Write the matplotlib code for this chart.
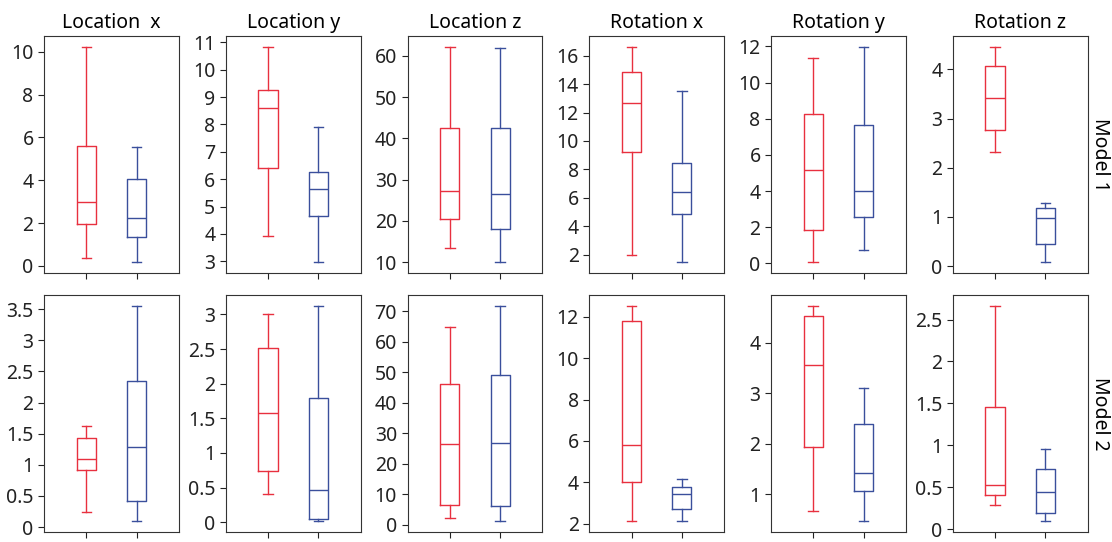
# box plots of location / rotation errors for two models

import numpy as np
import matplotlib
matplotlib.use('Agg')
import matplotlib.pyplot as plt
from matplotlib.ticker import FormatStrFormatter

plt.rcParams['font.family'] = ['Noto Sans', 'DejaVu Sans']

titles = ['Location  x', 'Location y', 'Location z', 'Rotation x', 'Rotation y', 'Rotation z']
rows = ['Model 1', 'Model 2']

# box stats per panel: (whislo, q1, med, q3, whishi), first red then blue
m1_red = [(0.38, 1.97, 2.97, 5.62, 10.23),
          (3.94, 6.40, 8.62, 9.27, 10.84),
          (13.3, 20.5, 27.2, 42.6, 62.2),
          (1.98, 9.21, 12.67, 14.84, 16.63),
          (0.07, 1.83, 5.15, 8.24, 11.36),
          (2.31, 2.77, 3.41, 4.07, 4.46)]
m1_blue = [(0.18, 1.34, 2.25, 4.06, 5.57),
           (2.97, 4.64, 5.64, 6.26, 7.90),
           (10.0, 18.0, 26.6, 42.6, 61.9),
           (1.47, 4.88, 6.44, 8.44, 13.51),
           (0.73, 2.56, 4.02, 7.67, 11.98),
           (0.08, 0.44, 0.97, 1.18, 1.28)]
m2_red = [(0.24, 0.91, 1.10, 1.43, 1.62),
          (0.41, 0.74, 1.58, 2.51, 3.00),
          (2.1, 6.5, 26.3, 46.1, 64.7),
          (2.13, 4.02, 5.80, 11.79, 12.51),
          (0.67, 1.93, 3.56, 4.53, 4.72),
          (0.29, 0.41, 0.52, 1.46, 2.66)]
m2_blue = [(0.09, 0.42, 1.29, 2.34, 3.55),
           (0.01, 0.04, 0.47, 1.79, 3.12),
           (1.0, 6.1, 26.7, 49.1, 71.7),
           (2.11, 2.70, 3.43, 3.78, 4.17),
           (0.46, 1.07, 1.42, 2.38, 3.11),
           (0.09, 0.19, 0.44, 0.72, 0.96)]

# y tick labels as shown: (start, stop, step)
m1_ticks = [(0, 10, 2), (3, 11, 1), (10, 60, 10), (2, 16, 2), (0, 12, 2), (0, 4, 1)]
m2_ticks = [(0, 3.5, 0.5), (0, 3, 0.5), (0, 70, 10), (2, 12, 2), (1, 4, 1), (0, 2.5, 0.5)]

red = '#e8303f'
blue = '#3a4f9c'


def stats(v):
    lo, q1, med, q3, hi = v
    return dict(whislo=lo, q1=q1, med=med, q3=q3, whishi=hi, fliers=[])


fig, axes = plt.subplots(2, 6, figsize=(11.12, 5.42), dpi=100)
fig.subplots_adjust(left=0.0396, right=0.978, top=0.9336, bottom=0.018,
                    wspace=0.348, hspace=0.095)

for r, (reds, blues, tks) in enumerate([(m1_red, m1_blue, m1_ticks),
                                         (m2_red, m2_blue, m2_ticks)]):
    for c in range(6):
        ax = axes[r, c]
        for pos, v, col in [(1, reds[c], red), (2, blues[c], blue)]:
            lp = dict(color=col, linewidth=1.0)
            ax.bxp([stats(v)], positions=[pos], widths=0.38, showfliers=False,
                   boxprops=lp, whiskerprops=lp, capprops=lp, medianprops=lp,
                   manage_ticks=False)
        ax.set_xlim(0.16, 2.84)
        ax.set_xticks([1, 2])
        ax.set_xticklabels([])
        a, b, s = tks[c]
        ax.set_yticks(np.arange(a, b + s / 2, s))
        ax.yaxis.set_major_formatter(FormatStrFormatter('%g'))
        ax.tick_params(labelsize=14, colors='#222222', length=4)
        for sp in ax.spines.values():
            sp.set_color('#333333')
        if r == 0:
            ax.set_title(titles[c], fontsize=14, pad=6)
    # row label on the right
    p = axes[r, 5].get_position()
    fig.text(0.989, (p.y0 + p.y1) / 2, rows[r], rotation=-90,
             ha='center', va='center', fontsize=14)

fig.savefig('out.png', dpi=100)
